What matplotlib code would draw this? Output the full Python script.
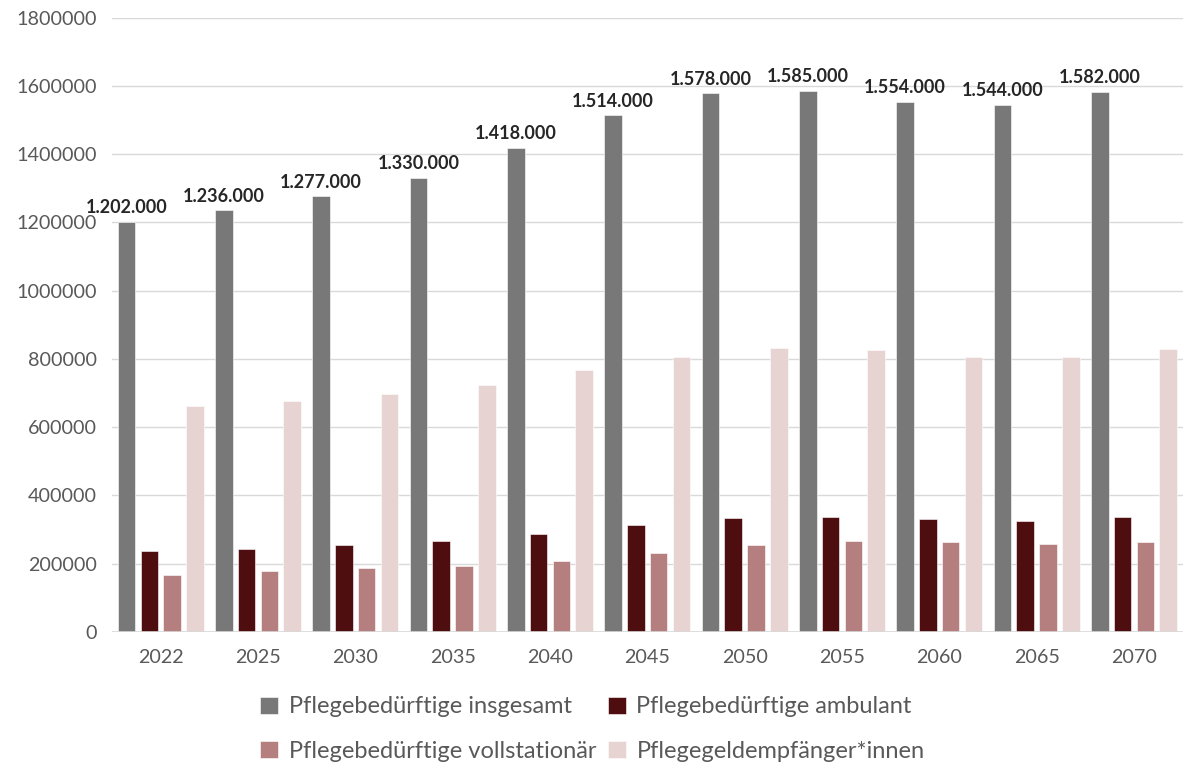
import numpy as np
import matplotlib
matplotlib.use("Agg")
import matplotlib.pyplot as plt

plt.rcParams['font.family'] = ['Lato', 'DejaVu Sans']

jahre = ["2022", "2025", "2030", "2035", "2040", "2045", "2050", "2055", "2060", "2065", "2070"]
insgesamt = [1202000, 1236000, 1277000, 1330000, 1418000, 1514000, 1578000, 1585000, 1554000, 1544000, 1582000]
ambulant = [238000, 244000, 254000, 266000, 286000, 314000, 333000, 338000, 331000, 326000, 336000]
vollstationaer = [168000, 178000, 187000, 193000, 207000, 230000, 254000, 266000, 264000, 259000, 264000]
pflegegeld = [661000, 678000, 696000, 723000, 767000, 807000, 831000, 826000, 807000, 807000, 828000]

reihen = [
    ("Pflegebedürftige insgesamt", insgesamt, "#787878"),
    ("Pflegebedürftige ambulant", ambulant, "#4e0e0f"),
    ("Pflegebedürftige vollstationär", vollstationaer, "#b57f80"),
    ("Pflegegeldempfänger*innen", pflegegeld, "#e8d3d3"),
]

fig = plt.figure(figsize=(11.85, 7.62), dpi=100)
ax = fig.add_axes([0.0945, 0.1706, 0.9035, 0.8064])

x = np.arange(len(jahre))
pitch = 0.234
breite = 0.18
textfarbe = "#595959"

balken = []
for i, (name, werte, farbe) in enumerate(reihen):
    pos = x + (i - 1.5) * pitch
    b = ax.bar(pos, werte, width=breite, color=farbe, edgecolor="white",
               linewidth=0.4, label=name, zorder=3)
    balken.append(b)
    if i == 0:
        for xp, v in zip(pos, werte):
            ax.annotate(f"{v:,}".replace(",", "."), (xp, v), xytext=(0, 4),
                        textcoords="offset points", ha="center", va="bottom",
                        fontsize=13, fontweight="bold", color="#262626")

ax.set_xlim(-0.5, len(jahre) - 0.5)
ax.set_ylim(0, 1800000)
ax.set_yticks(np.arange(0, 1800001, 200000))
ax.set_yticklabels([str(v) for v in range(0, 1800001, 200000)])
ax.set_xticks(x)
ax.set_xticklabels(jahre)
ax.tick_params(axis="both", length=0, labelsize=14.2, colors=textfarbe)
ax.tick_params(axis="y", pad=11)
ax.tick_params(axis="x", pad=12)
ax.grid(axis="y", color="#d9d9d9", linewidth=1, zorder=0)
for s in ax.spines.values():
    s.set_visible(False)
ax.axhline(0, color="#d9d9d9", linewidth=1.2, zorder=4)

# Legende zeilenweise: insgesamt/ambulant oben, vollstationär/Pflegegeld unten
reihenfolge = [0, 2, 1, 3]
leg = fig.legend([balken[k] for k in reihenfolge], [reihen[k][0] for k in reihenfolge],
                 loc="center", bbox_to_anchor=(0.5, 0.043), ncol=2,
                 frameon=False, fontsize=17, handlelength=0.75, handleheight=0.75,
                 handletextpad=0.45, columnspacing=0.5, labelspacing=1.0)
for t in leg.get_texts():
    t.set_color(textfarbe)

fig.savefig("out.png", dpi=100)
